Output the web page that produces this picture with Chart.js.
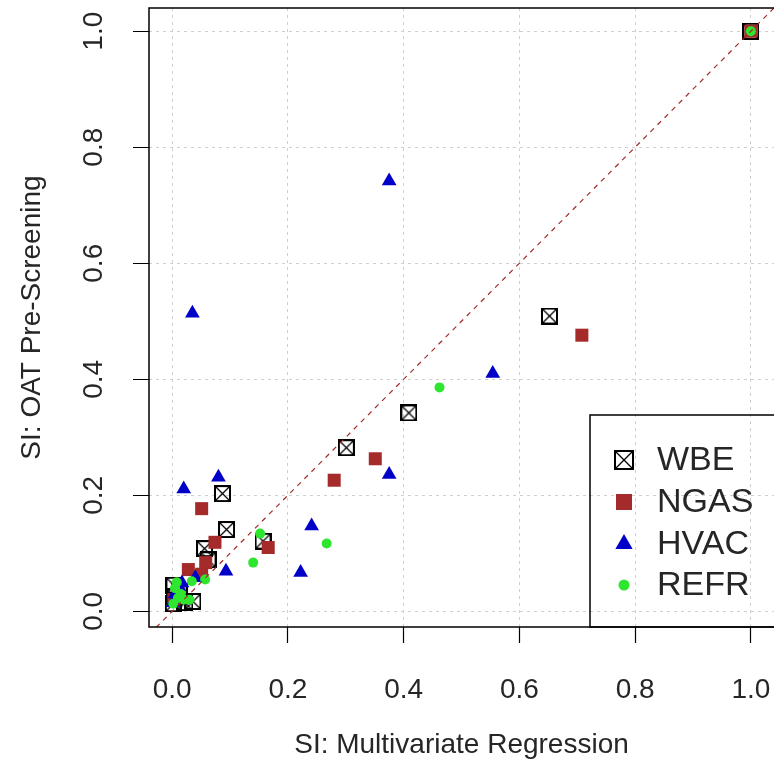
<!DOCTYPE html>
<html>
<head>
<meta charset="utf-8">
<script src="https://cdn.jsdelivr.net/npm/chart.js@4.4.1/dist/chart.umd.min.js"></script>
<style>
  html, body { margin: 0; padding: 0; background: #fff; }
</style>
</head>
<body>
<canvas id="chart" width="774" height="765"></canvas>
<script>
// ---- data ----
var wbeX = [1.0, 0.652, 0.409, 0.301, 0.087, 0.094, 0.157, 0.056, 0.062, 0.002, 0.004, 0.003, 0.012, 0.036, 0.022];
var wbeY = [1.0, 0.509, 0.342, 0.282, 0.203, 0.141, 0.121, 0.108, 0.089, 0.013, 0.025, 0.045, 0.035, 0.017, 0.015];

var ngasX = [1.0, 0.708, 0.351, 0.280, 0.051, 0.074, 0.166, 0.058, 0.028, 0.051, 0.010, 0.003];
var ngasY = [1.0, 0.476, 0.263, 0.226, 0.177, 0.119, 0.110, 0.084, 0.072, 0.064, 0.040, 0.020];

var hvacX = [0.375, 0.035, 0.554, 0.375, 0.080, 0.020, 0.241, 0.093, 0.222, 0.040, 0.017, 0.012, 0.005, 0.002];
var hvacY = [0.742, 0.514, 0.410, 0.236, 0.231, 0.211, 0.147, 0.069, 0.067, 0.058, 0.049, 0.042, 0.030, 0.015];

var refrX = [1.0, 0.462, 0.267, 0.152, 0.140, 0.057, 0.034, 0.008, 0.005, 0.015, 0.010, 0.020, 0.030, 0.002];
var refrY = [1.0, 0.386, 0.117, 0.134, 0.084, 0.055, 0.052, 0.050, 0.040, 0.030, 0.023, 0.020, 0.020, 0.013];

var seriesNames = ["WBE", "NGAS", "HVAC", "REFR"];
var tickValues = [0, 0.2, 0.4, 0.6, 0.8, 1.0];
var diagLine = [-0.04, 1.04];   // y = x reference line

var xTitle = "SI: Multivariate Regression";
var yTitle = "SI: OAT Pre-Screening";

// ---- styles ----
var textColor = "#262626";
var brown = "#a52a2a";
var blue = "#0000c8";
var green = "#2ee62e";
var fontFam = "'Liberation Sans', Arial, sans-serif";

function toPoints(xs, ys) {
  return xs.map(function (x, i) { return { x: x, y: ys[i] }; });
}

// square with an X (R pch 7)
function boxX(size) {
  var c = document.createElement("canvas");
  c.width = size; c.height = size;
  var g = c.getContext("2d");
  g.strokeStyle = "#000";
  g.lineWidth = 2;
  g.strokeRect(1, 1, size - 2, size - 2);
  g.lineWidth = 1.3;
  g.beginPath();
  g.moveTo(1.5, 1.5); g.lineTo(size - 1.5, size - 1.5);
  g.moveTo(size - 1.5, 1.5); g.lineTo(1.5, size - 1.5);
  g.stroke();
  return c;
}
var wbeImg = boxX(17);
var wbeImgBig = boxX(20);

function pts(xs) { return xs.map(function (v) { return { x: v, y: v }; }); }

// box, rotated y labels and legend drawn after the chart
var extras = {
  id: "extras",
  afterDraw: function (chart) {
    var ctx = chart.ctx, ca = chart.chartArea;
    ctx.save();

    // plot frame
    ctx.strokeStyle = "#000";
    ctx.lineWidth = 1.5;
    ctx.setLineDash([]);
    ctx.strokeRect(ca.left, ca.top, ca.right - ca.left + 1, ca.bottom - ca.top);

    // y tick labels, parallel to the axis
    var ys = chart.scales.y;
    ctx.fillStyle = textColor;
    ctx.font = "28px " + fontFam;
    ctx.textAlign = "center";
    ctx.textBaseline = "middle";
    ys.ticks.forEach(function (t) {
      var py = ys.getPixelForValue(t.value);
      ctx.save();
      ctx.translate(94, py);
      ctx.rotate(-Math.PI / 2);
      ctx.fillText(t.value.toFixed(1), 0, 0);
      ctx.restore();
    });

    // legend (bottom right, transparent)
    var lw = 185, lh = 212;
    var lx = ca.right + 1 - lw, ly = ca.bottom - lh;
    ctx.lineWidth = 1.5;
    ctx.strokeRect(lx, ly, lw + 2, lh);
    ctx.font = "34px " + fontFam;
    ctx.textAlign = "left";
    var rowY = [45, 87, 129, 170];
    seriesNames.forEach(function (name, i) {
      var cy = ly + rowY[i], cx = lx + 34;
      if (i === 0) {
        ctx.drawImage(wbeImgBig, cx - 10, cy - 10);
      } else if (i === 1) {
        ctx.fillStyle = brown;
        ctx.fillRect(cx - 8, cy - 8, 16, 16);
      } else if (i === 2) {
        var r = 10;
        ctx.fillStyle = blue;
        ctx.beginPath();
        ctx.moveTo(cx, cy - r);
        ctx.lineTo(cx + r * 0.866, cy + r * 0.5);
        ctx.lineTo(cx - r * 0.866, cy + r * 0.5);
        ctx.closePath();
        ctx.fill();
      } else {
        ctx.fillStyle = green;
        ctx.beginPath();
        ctx.arc(cx, cy, 5.5, 0, Math.PI * 2);
        ctx.fill();
      }
      ctx.fillStyle = textColor;
      ctx.fillText(name, lx + 67, cy + 1);
    });
    ctx.restore();
  }
};

function axis(min, max, isX) {
  return {
    type: "linear",
    min: min,
    max: max,
    afterBuildTicks: function (s) {
      s.ticks = tickValues.map(function (v) { return { value: v }; });
    },
    afterFit: function (s) {
      if (isX) s.height = 138; else s.width = 149;
      s.paddingLeft = 0; s.paddingRight = 0;
      s.paddingTop = 0; s.paddingBottom = 0;
    },
    ticks: {
      display: isX,
      color: textColor,
      font: { size: 28, family: fontFam },
      padding: 30,
      maxRotation: 0,
      callback: function (v) { return Number(v).toFixed(1); }
    },
    grid: {
      color: "#cfcfcf",
      lineWidth: 1,
      drawTicks: true,
      tickLength: 16,
      tickColor: "#000",
      tickWidth: 1.2,
      tickBorderDash: [1, 0]
    },
    border: { display: false, dash: [3, 4] },
    title: {
      display: true,
      text: isX ? xTitle : yTitle,
      color: textColor,
      font: { size: 28, family: fontFam },
      padding: isX ? { top: 0, bottom: 3 } : { top: 15, bottom: 0 }
    }
  };
}

new Chart(document.getElementById("chart"), {
  type: "scatter",
  data: {
    datasets: [
      {
        label: "diag",
        data: pts(diagLine),
        showLine: true,
        borderColor: brown,
        borderWidth: 1.2,
        borderDash: [5, 5],
        pointRadius: 0,
        order: 0
      },
      {
        label: seriesNames[0],
        data: toPoints(wbeX, wbeY),
        pointStyle: wbeImg,
        order: 4
      },
      {
        label: seriesNames[1],
        data: toPoints(ngasX, ngasY),
        pointStyle: "rect",
        pointRadius: 9.2,
        backgroundColor: brown,
        borderWidth: 0,
        order: 3
      },
      {
        label: seriesNames[2],
        data: toPoints(hvacX, hvacY),
        pointStyle: "triangle",
        pointRadius: 8.5,
        backgroundColor: blue,
        borderWidth: 0,
        order: 2
      },
      {
        label: seriesNames[3],
        data: toPoints(refrX, refrY),
        pointStyle: "circle",
        pointRadius: 5,
        backgroundColor: green,
        borderWidth: 0,
        order: 1
      }
    ]
  },
  options: {
    responsive: false,
    animation: false,
    layout: { autoPadding: false, padding: { top: 8, right: 0, bottom: 0, left: 0 } },
    plugins: { legend: { display: false }, tooltip: { enabled: false } },
    scales: {
      x: axis(-0.04, 1.04, true),
      y: axis(-0.027, 1.04, false)
    }
  },
  plugins: [extras]
});
</script>
</body>
</html>
